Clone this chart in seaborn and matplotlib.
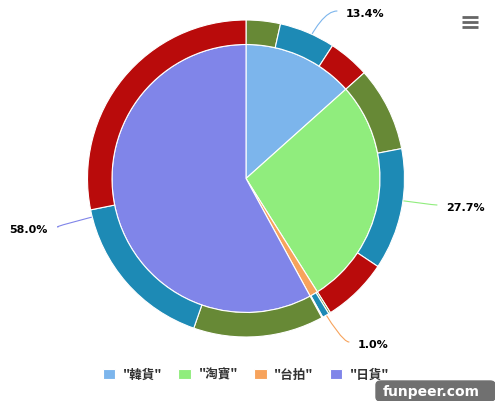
import numpy as np
import matplotlib
matplotlib.use('Agg')
import matplotlib.pyplot as plt
import seaborn as sns
from matplotlib.patches import FancyBboxPatch

# dados do gráfico
categories = ['韓貨', '淘寶', '台拍', '日貨']
shares = [13.4, 27.7, 1.0, 58.0]
# anel externo: três partes por categoria (verde, azul, vermelho)
sub_shares = [
    [3.5, 5.7, 4.2],
    [8.6, 12.4, 6.7],
    [0.2, 0.7, 0.1],
    [13.3, 16.5, 28.2],
]

inner_colors = ['#7cb5ec', '#90ed7d', '#f7a35c', '#8085e9']
outer_colors = ['#678936', '#1d8ab5', '#b90b0b']

sns.set_style('white')
plt.rcParams['font.family'] = ['Noto Sans CJK TC', 'DejaVu Sans']

W, H = 495, 401
fig = plt.figure(figsize=(W / 100, H / 100), dpi=100)
ax = fig.add_axes([0, 0, 1, 1])
cx, cy = 246, H - 178.5
r_in, r_out = 134, 158.5

inner, _ = ax.pie(shares, colors=inner_colors, radius=r_in, center=(cx, cy),
                  startangle=90, counterclock=False,
                  wedgeprops=dict(edgecolor='white', linewidth=0.8))

outer_vals = [v for grp in sub_shares for v in grp]
outer_cols = outer_colors * len(sub_shares)
ax.pie(outer_vals, colors=outer_cols, radius=r_out, center=(cx, cy),
       startangle=90, counterclock=False,
       wedgeprops=dict(width=r_out - r_in, edgecolor='white', linewidth=0.8))

ax.set_xlim(0, W)
ax.set_ylim(0, H)
ax.set_aspect('equal')
ax.axis('off')

# rótulos com linhas de ligação (posição final em pixels, mesma ordem das categorias)
label_end = [(337, 11), (437, 205), (349, 342), (58, 227)]
cum = np.cumsum([0] + shares)
for i, (share, end) in enumerate(zip(shares, label_end)):
    mid = (cum[i] + cum[i + 1]) / 2 / 100 * 360
    theta = np.deg2rad(90 - mid)
    anchor = (cx + r_in * np.cos(theta), cy + r_in * np.sin(theta))
    ex, ey = end[0], H - end[1]
    ax.annotate('', xy=anchor, xytext=(ex, ey), zorder=0.5,
                arrowprops=dict(arrowstyle='-', color=inner_colors[i], lw=0.8,
                                shrinkA=0, shrinkB=0,
                                connectionstyle=f'angle3,angleA=0,angleB={90 - mid}'))
    left = ex < cx
    ax.text(ex + (-10 if left else 9), ey - 3, f'{share:.1f}%',
            ha='right' if left else 'left', va='center',
            fontsize=8, fontweight='bold', family='DejaVu Sans', color='black')

leg = ax.legend(inner, [f'"{c}"' for c in categories], loc='center',
                bbox_to_anchor=(246 / W, 1 - 375 / H), ncol=4, frameon=False,
                handlelength=1.0, handleheight=0.8, handletextpad=0.6,
                columnspacing=1.3,
                prop=dict(family=['Noto Sans CJK TC', 'DejaVu Sans'],
                          weight='bold', size=9))
for t in leg.get_texts():
    t.set_color('#333333')

# ícone de menu
ax.hlines([H - 17, H - 22, H - 27], 462, 478, colors='#666666', lw=2)

# marca d'água
fig.patches.append(FancyBboxPatch((376 / W, 0), (W - 376) / W, 20 / H,
                                  boxstyle='round,pad=0,rounding_size=0.01',
                                  transform=fig.transFigure, color='#707070'))
fig.text(431 / W, 1 - 392 / H, 'funpeer.com', color='white', fontsize=10,
         weight='bold', ha='center', va='center', family='DejaVu Sans')

plt.savefig('out.png', dpi=100)
plt.close()
